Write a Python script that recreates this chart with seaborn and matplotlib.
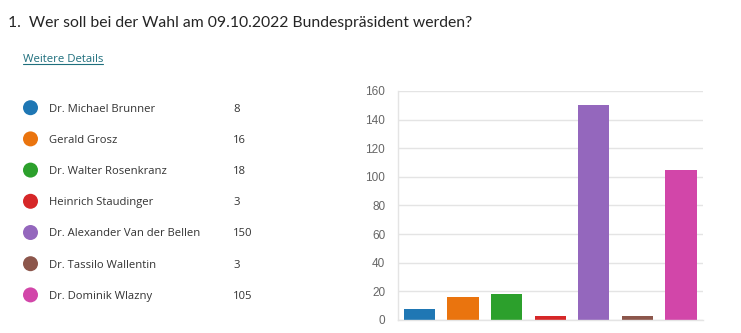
import matplotlib
matplotlib.use("Agg")
import matplotlib.pyplot as plt
import seaborn as sns
import pandas as pd
from matplotlib.lines import Line2D
from matplotlib.patches import Ellipse

candidates = ["Dr. Michael Brunner", "Gerald Grosz", "Dr. Walter Rosenkranz",
              "Heinrich Staudinger", "Dr. Alexander Van der Bellen",
              "Dr. Tassilo Wallentin", "Dr. Dominik Wlazny"]
votes = [8, 16, 18, 3, 150, 3, 105]
colors = ["#1f77b4", "#ea740e", "#2ca02c", "#d62728", "#9467bd", "#8c564b", "#d246a9"]
yticks = [0, 20, 40, 60, 80, 100, 120, 140, 160]
title = "1.  Wer soll bei der Wahl am 09.10.2022 Bundespräsident werden?"
link = "Weitere Details"

sns.set_theme(style="white")
plt.rcParams['font.family'] = ['Open Sans', 'DejaVu Sans']

W, H = 741, 333
fig = plt.figure(figsize=(W / 100, H / 100), dpi=100)
fig.patch.set_facecolor("white")

def fx(px):
    return px / W

def fy(py):
    return 1 - py / H

# Title and link
fig.text(fx(8), fy(23.5), title, fontsize=11.3, color="#252525", va="center", ha="left",
         family=['Lato', 'DejaVu Sans'])
lt = fig.text(fx(23), fy(59.5), link, fontsize=8.2, color="#1f6f7d", va="center", ha="left")
fig.canvas.draw()
bb = lt.get_window_extent()
fig.add_artist(Line2D([bb.x0 / W, bb.x1 / W], [fy(64), fy(64)], color="#1f6f7d", lw=0.8,
                      transform=fig.transFigure))

# Legend list
row0, step = 107.7, 31.2
for i, (name, v, c) in enumerate(zip(candidates, votes, colors)):
    y = row0 + i * step
    fig.add_artist(Ellipse((fx(30.5), fy(y)), width=15 / W, height=15 / H,
                           transform=fig.transFigure, color=c, lw=0))
    fig.text(fx(49), fy(y + 1.5), name, fontsize=8.1, color="#333333", va="center", ha="left")
    fig.text(fx(233), fy(y + 1.5), str(v), fontsize=8.1, color="#333333", va="center", ha="left")

# Bar chart
ax = fig.add_axes([fx(397.7), fy(320), fx(702.7) - fx(397.7), fy(91) - fy(320)])
df = pd.DataFrame({"candidate": candidates, "votes": votes})
sns.barplot(data=df, x="candidate", y="votes", hue="candidate", palette=colors,
            legend=False, ax=ax, width=0.72, saturation=1, linewidth=0)
ax.set_ylim(0, 160)
ax.set_xlim(-0.5, len(candidates) - 0.5)
ax.set_yticks(yticks)
ax.set_yticklabels([str(t) for t in yticks], fontsize=8.5, color="#666666",
                   family=['Liberation Sans', 'DejaVu Sans'])
ax.set_xticks([])
ax.set_xlabel("")
ax.set_ylabel("")
ax.tick_params(axis="y", length=0, pad=9)
ax.yaxis.grid(True, color="#e4e4e4", lw=1)
ax.set_axisbelow(True)
for s in ["top", "right"]:
    ax.spines[s].set_visible(False)
ax.spines["left"].set_color("#e4e4e4")
ax.spines["bottom"].set_color("#e4e4e4")
ax.spines["left"].set_linewidth(1)
ax.spines["bottom"].set_linewidth(1)
ax.set_facecolor("white")

fig.savefig("out.png", dpi=100, facecolor="white")
